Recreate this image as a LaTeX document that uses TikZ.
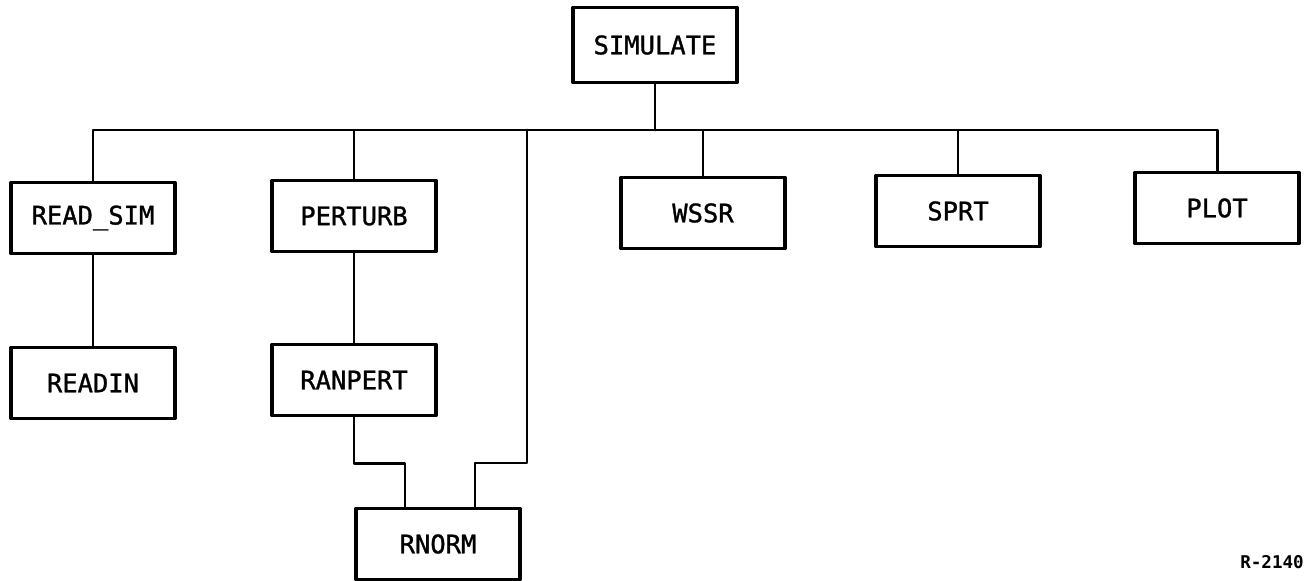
\documentclass[tikz,border=0pt]{standalone}
\usepackage{fontspec}
\setmonofont{DejaVu Sans Mono}
\newfontfamily\boxfont[FakeBold=1.2]{DejaVu Sans Mono}
\usepackage{tikz}
\usetikzlibrary{positioning,calc}

\begin{document}
\begin{tikzpicture}[x=0.2mm, y=-0.2mm, line cap=round, line join=round,
                    every node/.style={outer sep=0pt}]

  \tikzset{
    module/.style={draw=black, line width=1.8pt, fill=white, inner sep=0pt,
                   minimum width=3.28cm, minimum height=1.42cm,
                   font=\boxfont\fontsize{14.5}{16}\selectfont},
    link/.style={line width=1.7pt, draw=black}
  }

  \path[use as bounding box] (0,0) rectangle (1310,581);

  % Top level
  \node[module, minimum height=1.5cm] (simulate) at (655,45) {SIMULATE};

  % First row
  \node[module] (readsim) at (93,218)   {READ\_SIM};
  \node[module] (perturb) at (354,216)  {PERTURB};
  \node[module] (wssr)    at (703,213)  {WSSR};
  \node[module] (sprt)    at (958,211)  {SPRT};
  \node[module] (plot)    at (1217,208) {PLOT};

  % Second and third row
  \node[module] (readin)  at (93,383)   {READIN};
  \node[module] (ranpert) at (354,380)  {RANPERT};
  \node[module] (rnorm)   at (438,544)  {RNORM};

  \node[font=\ttfamily\bfseries\fontsize{10}{12}\selectfont] (rnum) at (1272,562) {R-2140};

  % Connectors
  \coordinate (bus) at (simulate.south |- 0,130);
  \coordinate (tap) at (527,130);
  \draw[link] (simulate.south) -- (bus);
  \foreach \n in {readsim,perturb,wssr,sprt,plot} \draw[link] (bus) -| (\n.north);
  \draw[link] (readsim.south) -- (readin.north);
  \draw[link] (perturb.south) -- (ranpert.north);
  \draw[link] (ranpert.south) -- ++(0,48) -| ([xshift=-6.6mm]rnorm.north);
  \draw[link] (tap) -- (527,463) -| ([xshift=7.4mm]rnorm.north);
\end{tikzpicture}
\end{document}
